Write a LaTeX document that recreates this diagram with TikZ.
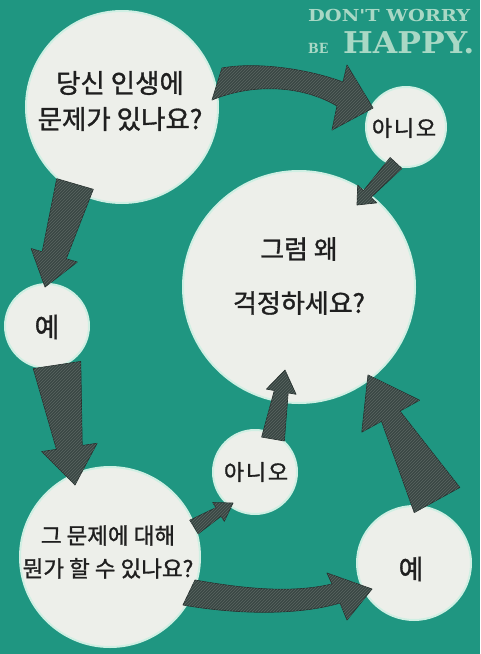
\documentclass[tikz,border=0pt]{standalone}
\usepackage{fontspec}
\newfontfamily\kr{Noto Sans CJK KR}[FakeBold=1.2]
\newfontfamily\krs{Noto Sans CJK KR}[FakeBold=1.2, LetterSpace=8]
\newfontfamily\slab{DejaVu Serif}
\usetikzlibrary{calc,patterns}
\definecolor{bgc}{HTML}{1F9681}
\definecolor{bubc}{HTML}{EDEFEA}
\definecolor{rimc}{HTML}{CFEFE3}
\definecolor{arrc}{HTML}{3A4744}
\definecolor{arrd}{HTML}{27302E}
\definecolor{hatc}{HTML}{5A6662}
\definecolor{titc}{HTML}{A9D8C5}
\tikzset{
  bubble/.style={circle, fill=bubc, draw=rimc, line width=2pt, inner sep=0pt},
  ktext/.style={font=\kr, text=black!88, align=center, inner sep=0pt},
  fat/.style={fill=arrc, draw=arrd, line width=0.7pt, line join=round,
    postaction={pattern=north east lines, pattern color=hatc}},
  title/.style={font=\slab\bfseries, text=titc, inner sep=0pt, anchor=base west},
}
\newcommand\fatarrow[6]{%
  \coordinate (hb) at ($(#2)!#6!(#1)$);
  \path[fat] ($(#1)!#3!90:(#2)$) -- ($(hb)!#4!-90:(#1)$) -- ($(hb)!#5!-90:(#1)$)
    -- (#2) -- ($(hb)!#5!90:(#1)$) -- ($(hb)!#4!90:(#1)$) -- ($(#1)!#3!-90:(#2)$) -- cycle;}
\begin{document}
\begin{tikzpicture}[x=1pt,y=-1pt]
\fill[bgc] (0,0) rectangle (480,654);
\useasboundingbox (0,0) rectangle (480,654);

% title
\node[title, font=\slab\bfseries\fontsize{16.5}{16.5}\selectfont, xscale=1.17] (t1) at (308,21) {DON'T WORRY};
\node[title, font=\slab\bfseries\fontsize{14}{14}\selectfont, xscale=0.9] (t2) at (308,53) {BE};
\node[title, font=\slab\bfseries\fontsize{30}{30}\selectfont, xscale=1.05] (t3) at (343,53) {HAPPY.};

% bubbles
\node[bubble, minimum size=192pt] (q1) at (122,107) {};
\node[bubble, minimum size=80pt] (no1) at (406,127) {};
\node[bubble, minimum size=232pt] (why) at (299,287) {};
\node[bubble, minimum size=84pt] (yes1) at (47,326) {};
\node[bubble, minimum size=84pt] (no2) at (255,472) {};
\node[bubble, minimum size=180pt] (q2) at (110,557) {};
\node[bubble, minimum size=114pt] (yes2) at (414,563) {};

% texts
\node[ktext, font=\kr\fontsize{26.5}{36}\selectfont] (q1t) at (120,101) {당신 인생에\\문제가 있나요?};
\node[ktext, font=\krs\fontsize{22}{22}\selectfont] (no1t) at (404,128) {아니오};
\node[ktext, font=\kr\fontsize{26}{54}\selectfont] (whyt) at (299,276) {그럼 왜\\걱정하세요?};
\node[ktext, font=\kr\fontsize{27}{27}\selectfont] (yes1t) at (47,327) {예};
\node[ktext, font=\krs\fontsize{22}{22}\selectfont] (no2t) at (256,472) {아니오};
\node[ktext, font=\kr\fontsize{22.5}{33}\selectfont] (q2t) at (108,552) {그 문제에 대해\\뭔가 할 수 있나요?};
\node[ktext, font=\kr\fontsize{27}{27}\selectfont] (yes2t) at (411,569) {예};

% curved arrow q1 -> no1
\path[fat] (212,100) .. controls (250,84) and (300,84) .. (337,106)
  -- (332,130) -- (373,108) -- (347,65) -- (343,82)
  .. controls (305,68) and (255,62) .. (222,68) -- cycle;
% curved arrow q2 -> yes2
\path[fat] (183,605) .. controls (240,615) and (300,615) .. (340,603)
  -- (347,620) -- (372,589) -- (327,573) -- (332,584)
  .. controls (290,594) and (240,588) .. (195,580) -- cycle;

% straight arrows
\coordinate (aB1) at (396,163); \coordinate (aB2) at (357,205);
\coordinate (aC1) at (75,184);  \coordinate (aC2) at (45,287);
\coordinate (aD1) at (57,365);  \coordinate (aD2) at (75,485);
\coordinate (aE1) at (194,527); \coordinate (aE2) at (233,503);
\coordinate (aF1) at (273,439); \coordinate (aF2) at (285,370);
\coordinate (aH1) at (437,500); \coordinate (aH2) at (368,375);
\fatarrow{aB1}{aB2}{8pt}{5pt}{13pt}{15pt}
\fatarrow{aC1}{aC2}{19pt}{12.5pt}{24pt}{33pt}
\fatarrow{aD1}{aD2}{24pt}{13pt}{28pt}{38pt}
\fatarrow{aE1}{aE2}{8pt}{5pt}{11pt}{17pt}
\fatarrow{aF1}{aF2}{11.5pt}{7pt}{15pt}{22pt}
\fatarrow{aH1}{aH2}{26pt}{10.5pt}{33pt}{47pt}
\end{tikzpicture}
\end{document}
